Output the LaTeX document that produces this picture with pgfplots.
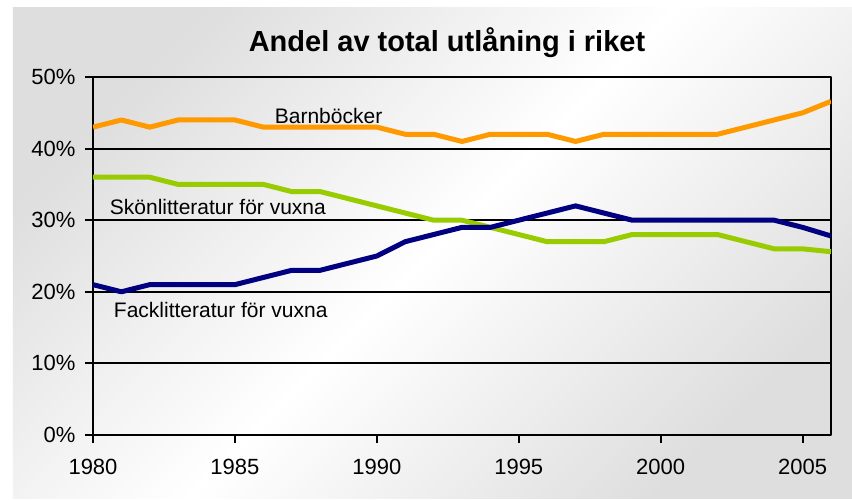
\documentclass[border=0pt]{standalone}
\usepackage{pgfplots}
\pgfplotsset{compat=1.18}
\usepackage{fontspec}
\setmainfont{Liberation Sans}
\definecolor{orangeL}{HTML}{FF9900}
\definecolor{greenL}{HTML}{99CC00}
\definecolor{navyL}{HTML}{000080}
\pgfplotstableread{
year barn skon fack
1980 43 36 21
1981 44 36 20
1982 43 36 21
1983 44 35 21
1984 44 35 21
1985 44 35 21
1986 43 35 22
1987 43 34 23
1988 43 34 23
1989 43 33 24
1990 43 32 25
1991 42 31 27
1992 42 30 28
1993 41 30 29
1994 42 29 29
1995 42 28 30
1996 42 27 31
1997 41 27 32
1998 42 27 31
1999 42 28 30
2000 42 28 30
2001 42 28 30
2002 42 28 30
2003 43 27 30
2004 44 26 30
2005 45 26 29
2006 46.6 25.6 27.8
}\datatable
\begin{document}
\begin{tikzpicture}
\path[use as bounding box] (-93pt,-64pt) rectangle (759pt,435pt);
\fill[white] (-93pt,-64pt) rectangle (759pt,435pt);
\shade[shading=axis, top color=gray!26, bottom color=gray!26, middle color=white, shading angle=45] (-80pt,-63pt) rectangle (759pt,427pt);
\node[font=\fontsize{29}{34}\selectfont\bfseries, anchor=base] at (354pt,383pt) {Andel av total utlåning i riket};
\begin{axis}[
  at={(0pt,0pt)}, anchor=south west,
  scale only axis, width=738pt, height=358pt,
  xmin=1980, xmax=2006, ymin=0, ymax=50,
  xtick={1980,1985,...,2005}, ytick={0,10,...,50},
  yticklabel={\pgfmathprintnumber{\tick}\%},
  /pgf/number format/1000 sep={},
  /pgf/number format/assume math mode=true,
  tick label style={font=\fontsize{22}{26}\selectfont},
  tick align=outside, major tick length=8pt,
  tick style={black, line width=2pt},
  xtick pos=bottom, ytick pos=left,
  axis line style={black, line width=2.5pt},
  ymajorgrids, grid style={black, line width=2pt},
  yticklabel style={anchor=east, xshift=-6pt},
  xticklabel style={anchor=north, yshift=-13pt},
  line join=round,
]
\addplot[orangeL, line width=5pt] table[x=year,y=barn] {\datatable};
\addplot[greenL, line width=5pt] table[x=year,y=skon] {\datatable};
\addplot[navyL, line width=5pt] table[x=year,y=fack] {\datatable};
\node[font=\fontsize{21}{25}\selectfont] at (axis cs:1988.3,44.55) {Barnböcker};
\node[font=\fontsize{21}{25}\selectfont] at (axis cs:1984.4,31.8) {Skönlitteratur för vuxna};
\node[font=\fontsize{21}{25}\selectfont] at (axis cs:1984.5,17.45) {Facklitteratur för vuxna};
\end{axis}
\end{tikzpicture}
\end{document}
